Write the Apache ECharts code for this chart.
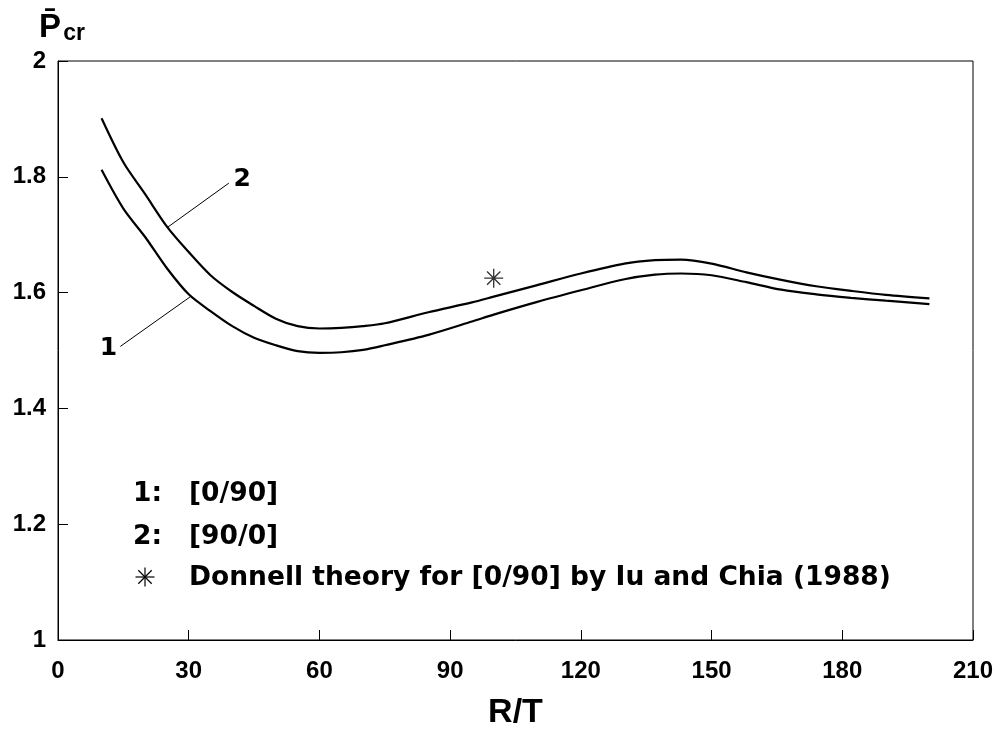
<!DOCTYPE html>
<html>
<head>
<meta charset="utf-8">
<script src="https://cdn.jsdelivr.net/npm/echarts@6/dist/echarts.min.js"></script>
<style>
html,body{margin:0;padding:0;background:#fff;}
#chart{width:1000px;height:731px;}
</style>
</head>
<body>
<div id="chart"></div>
<script>
// ---- data ----
const xTicks = [0, 30, 60, 90, 120, 150, 180, 210];
const yTicks = [1, 1.2, 1.4, 1.6, 1.8, 2];

// curve 1: [0/90]
const rt1 = [10, 15, 20, 25, 30, 35, 40, 45, 50, 55, 60, 65, 70, 75, 85, 95, 100, 110, 120, 130, 137, 143, 150, 158, 166, 174, 182, 190, 200];
const p1  = [1.812, 1.745, 1.696, 1.642, 1.597, 1.568, 1.542, 1.522, 1.509, 1.499, 1.496, 1.497, 1.501, 1.509, 1.527, 1.550, 1.562, 1.584, 1.604, 1.623, 1.631, 1.633, 1.630, 1.618, 1.605, 1.597, 1.591, 1.586, 1.580];

// curve 2: [90/0]
const rt2 = [10, 15, 20, 25, 30, 35, 40, 45, 50, 55, 60, 65, 70, 75, 85, 95, 100, 110, 120, 130, 137, 143, 150, 158, 166, 174, 182, 190, 200];
const p2  = [1.901, 1.825, 1.770, 1.714, 1.670, 1.630, 1.601, 1.577, 1.555, 1.542, 1.538, 1.539, 1.542, 1.547, 1.566, 1.583, 1.593, 1.613, 1.633, 1.650, 1.656, 1.657, 1.650, 1.635, 1.622, 1.611, 1.603, 1.596, 1.590];

// Donnell theory point
const donnellRT = [100];
const donnellP  = [1.625];

const seriesNames = ['[0/90]', '[90/0]', 'Donnell theory for [0/90] by Iu and Chia (1988)'];
const curveLabels = ['1', '2'];

// leader-line annotations (data units)
const leader1 = [[14.3, 1.507], [30.4, 1.593]];
const leader1Label = [11.6, 1.504];
const leader2 = [[25.0, 1.712], [39.2, 1.789]];
const leader2Label = [42.3, 1.795];

// ---- chart ----
const FONT = '"Liberation Sans", Arial, Helvetica, sans-serif';
const FONT2 = '"DejaVu Sans", Verdana, sans-serif';
const STAR = 'path://M0 9.3H20V10.7H0Z M9.3 0H10.7V20H9.3Z M2.5 3.5L3.5 2.5L17.5 16.5L16.5 17.5Z M16.5 2.5L17.5 3.5L3.5 17.5L2.5 16.5Z';

function zip(a, b) { return a.map((v, i) => [v, b[i]]); }

function leader(line, labelPos, text) {
  return {
    markLine: {
      silent: true, symbol: 'none', animation: false,
      lineStyle: { color: '#000', width: 1, type: 'solid' },
      label: { show: false },
      data: [[{ coord: line[0] }, { coord: line[1] }]]
    },
    markPoint: {
      silent: true, symbol: 'circle', symbolSize: 1, animation: false,
      itemStyle: { color: 'rgba(0,0,0,0)' },
      label: { show: true, position: 'inside', formatter: text, color: '#000', fontSize: 25, fontWeight: 'bold', fontFamily: FONT2 },
      data: [{ coord: labelPos }]
    }
  };
}

function starLines(cx, cy, r) {
  const d = r * Math.SQRT1_2;
  const segs = [[-r, 0, r, 0], [0, -r, 0, r], [-d, -d, d, d], [-d, d, d, -d]];
  return segs.map(s => ({
    type: 'line',
    shape: { x1: cx + s[0], y1: cy + s[1], x2: cx + s[2], y2: cy + s[3] },
    style: { stroke: '#000', lineWidth: 1.2 }
  }));
}

const chart = echarts.init(document.getElementById('chart'), null, { renderer: 'canvas' });

const axisLabelStyle = { color: '#000', fontSize: 24, fontWeight: 'bold', fontFamily: FONT };
const legendText = { fill: '#000', fontSize: 26.5, fontWeight: 'bold', fontFamily: FONT2, verticalAlign: 'middle' };

chart.setOption({
  animation: false,
  backgroundColor: '#fff',
  grid: { left: 58, right: 27, top: 61, bottom: 91, show: true, borderColor: '#000', borderWidth: 1, containLabel: false, outerBoundsMode: 'none' },
  xAxis: {
    type: 'value', min: xTicks[0], max: xTicks[xTicks.length - 1], interval: 30,
    name: 'R/T', nameLocation: 'middle', nameGap: 56,
    nameTextStyle: { color: '#000', fontSize: 34, fontWeight: 'bold', fontFamily: FONT },
    axisLine: { show: true, lineStyle: { color: '#000', width: 1 } },
    axisTick: { show: true, inside: true, length: 10, lineStyle: { color: '#000', width: 1 } },
    axisLabel: Object.assign({ margin: 19 }, axisLabelStyle),
    splitLine: { show: false }
  },
  yAxis: {
    type: 'value', min: yTicks[0], max: yTicks[yTicks.length - 1], interval: 0.2,
    name: '{p|P\u0304}{s|cr}', nameLocation: 'end', nameGap: 16,
    nameTextStyle: {
      padding: [0, 0, 0, 8],
      rich: {
        p: { fontSize: 33, fontWeight: 'bold', fontFamily: FONT, color: '#000' },
        s: { fontSize: 23, fontWeight: 'bold', fontFamily: FONT, color: '#000', padding: [12, 0, 0, 2] }
      }
    },
    axisLine: { show: true, lineStyle: { color: '#000', width: 1 } },
    axisTick: { show: true, inside: true, length: 10, lineStyle: { color: '#000', width: 1 } },
    axisLabel: Object.assign({ margin: 12, padding: [4, 0, 0, 0], formatter: v => String(+v.toFixed(1)) }, axisLabelStyle),
    splitLine: { show: false }
  },
  graphic: [
    { type: 'text', x: 133, y: 494, style: Object.assign({ text: curveLabels[0] + ':' }, legendText) },
    { type: 'text', x: 189, y: 494, style: Object.assign({ text: seriesNames[0] }, legendText) },
    { type: 'text', x: 133, y: 537, style: Object.assign({ text: curveLabels[1] + ':' }, legendText) },
    { type: 'text', x: 189, y: 537, style: Object.assign({ text: seriesNames[1] }, legendText) },
    { type: 'group', children: starLines(145, 577, 9.5) },
    { type: 'text', x: 189, y: 578, style: Object.assign({ text: seriesNames[2] }, legendText) }
  ],
  series: [
    Object.assign({
      name: seriesNames[0], type: 'line', data: zip(rt1, p1), smooth: 0.3,
      showSymbol: false, lineStyle: { color: '#000', width: 2.2 }
    }, leader(leader1, leader1Label, curveLabels[0])),
    Object.assign({
      name: seriesNames[1], type: 'line', data: zip(rt2, p2), smooth: 0.3,
      showSymbol: false, lineStyle: { color: '#000', width: 2.2 }
    }, leader(leader2, leader2Label, curveLabels[1])),
    {
      name: seriesNames[2], type: 'scatter', data: zip(donnellRT, donnellP),
      symbol: STAR, symbolSize: 19, itemStyle: { color: '#000' }
    }
  ]
});
</script>
</body>
</html>
